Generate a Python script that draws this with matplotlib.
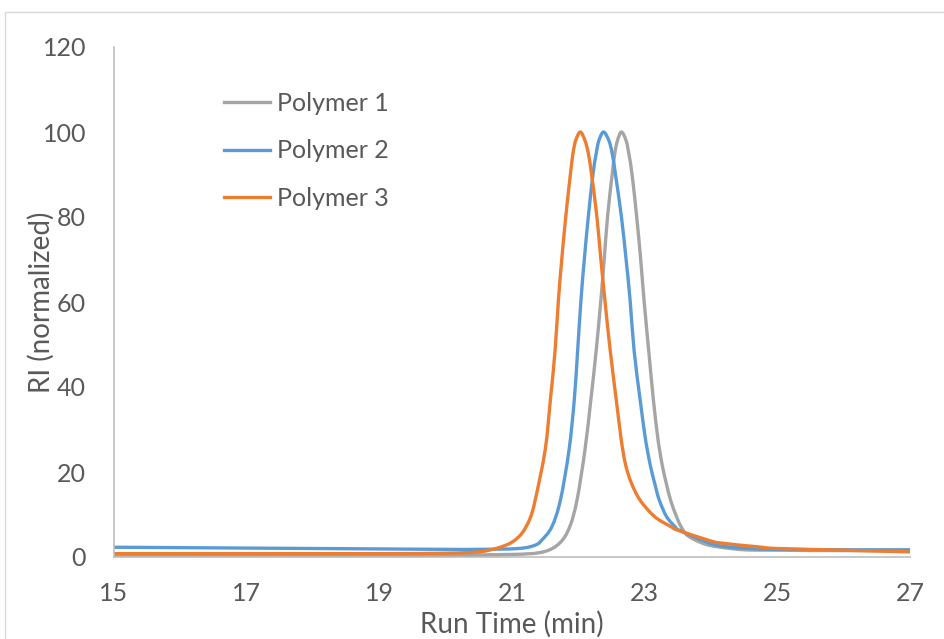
import matplotlib
matplotlib.use("Agg")
import matplotlib.pyplot as plt
from matplotlib.patches import Rectangle, PathPatch
from matplotlib.path import Path
from matplotlib.lines import Line2D

plt.rcParams['font.family'] = ['Lato', 'DejaVu Sans']

# Polymer 1 (grey)
t1 = [15, 17, 19, 20, 21, 21.47, 21.72, 21.87, 21.98, 22.10, 22.19, 22.27, 22.34, 22.39, 22.44,
      22.51, 22.55, 22.59, 22.65, 22.72, 22.76, 22.81, 22.88, 22.94, 22.99, 23.06, 23.13, 23.19,
      23.225, 23.27, 23.325, 23.39, 23.48, 23.55, 23.65, 23.88, 24.1, 24.5, 25, 26, 27]
y1 = [0.5, 0.5, 0.5, 0.5, 0.6, 1.2, 3.3, 7.1, 13.4, 25.2, 37.2, 48.7, 60.5, 70, 80,
      90, 95, 98, 100, 98, 95, 90, 80, 70, 60.5, 48.7, 37.2, 29,
      25.2, 21.2, 17.4, 13.4, 9.5, 7.1, 5.0, 3.2, 2.4, 1.7, 1.6, 1.5, 1.5]

# Polymer 2 (blue)
t2 = [15, 17, 19, 20, 20.5, 21.1, 21.35, 21.45, 21.60, 21.73, 21.86, 21.94, 21.99, 22.04, 22.09,
      22.15, 22.22, 22.27, 22.31, 22.38, 22.46, 22.51, 22.56, 22.65, 22.72, 22.78, 22.84, 22.93,
      23.0, 23.04, 23.09, 23.15, 23.22, 23.33, 23.46, 23.52, 23.99, 24.25, 24.6, 25, 26, 27]
y2 = [2.3, 2.1, 1.9, 1.8, 1.8, 2.0, 2.8, 4.0, 7.1, 13.4, 25.2, 37.2, 48.7, 60.5, 70,
      80, 90, 95, 98, 100, 98, 95, 90, 80, 70, 60.5, 48.7, 37.2,
      29, 25.2, 21.2, 17.4, 13.4, 9.5, 7.1, 6.3, 3.2, 2.4, 2.0, 1.8, 1.7, 1.7]

# Polymer 3 (orange)
t3 = [15, 17, 19, 20, 20.5, 20.8, 21.0, 21.15, 21.27, 21.35, 21.50, 21.58, 21.65, 21.70, 21.75,
      21.81, 21.88, 21.92, 21.96, 22.03, 22.10, 22.15, 22.20, 22.28, 22.34, 22.40, 22.48, 22.57,
      22.635, 22.67, 22.72, 22.80, 22.93, 23.15, 23.40, 23.50, 23.95, 24.14, 24.7, 25, 26, 27]
y3 = [0.8, 0.8, 0.8, 0.9, 1.2, 2.2, 3.5, 5.6, 9.0, 13.4, 25.2, 37.2, 48.7, 60.5, 70,
      80, 90, 95, 98, 100, 98, 95, 90, 80, 70, 60.5, 48.7, 37.2,
      29, 25.2, 21.2, 17.4, 13.4, 9.5, 7.1, 6.3, 4.0, 3.3, 2.4, 2.0, 1.6, 1.2]

series = [("Polymer 1", t1, y1, "#A5A5A5"),
          ("Polymer 2", t2, y2, "#5B9BD5"),
          ("Polymer 3", t3, y3, "#ED7D31")]

xticks = [15, 17, 19, 21, 23, 25, 27]
yticks = [0, 20, 40, 60, 80, 100, 120]


def smooth_path(xs, ys):
    """Smoothed line through the points (Excel-like), as cubic Bezier segments."""
    pts = list(zip(xs, ys))
    verts = [pts[0]]
    codes = [Path.MOVETO]
    n = len(pts)
    for i in range(n - 1):
        p0 = pts[i - 1] if i > 0 else pts[i]
        p1 = pts[i]
        p2 = pts[i + 1]
        p3 = pts[i + 2] if i + 2 < n else pts[i + 1]
        c1 = (p1[0] + (p2[0] - p0[0]) / 6, p1[1] + (p2[1] - p0[1]) / 6)
        c2 = (p2[0] - (p3[0] - p1[0]) / 6, p2[1] - (p3[1] - p1[1]) / 6)
        verts += [c1, c2, p2]
        codes += [Path.CURVE4] * 3
    return Path(verts, codes)


fig = plt.figure(figsize=(9.45, 6.39), dpi=100)
fig.patches.append(Rectangle((5/945, -0.1), 1.2, 1.1 - 12/639, transform=fig.transFigure,
                             fill=False, edgecolor="#D9D9D9", linewidth=1.0))
ax = fig.add_axes([114/945, 1 - 557/639, (910-114)/945, (557-47)/639])

handles = []
for name, t, y, c in series:
    patch = PathPatch(smooth_path(t, y), facecolor="none", edgecolor=c, lw=2.4,
                      joinstyle='round', capstyle='round')
    ax.add_patch(patch)
    handles.append(Line2D([], [], color=c, lw=2.4, label=name))

ax.set_xlim(15, 27)
ax.set_ylim(0, 120)
ax.set_xticks(xticks)
ax.set_yticks(yticks)
ax.tick_params(length=0, labelsize=18, colors="#595959")
ax.tick_params(axis='y', pad=20)
ax.tick_params(axis='x', pad=18)
for s in ["top", "right"]:
    ax.spines[s].set_visible(False)
for s in ["left", "bottom"]:
    ax.spines[s].set_color("#BFBFBF")
    ax.spines[s].set_linewidth(1.2)
ax.spines["bottom"].set_zorder(0.5)

ax.set_xlabel("Run Time (min)", fontsize=20, color="#595959", labelpad=4)
ax.set_ylabel("RI (normalized)", fontsize=20, color="#595959", labelpad=-9)

leg = ax.legend(handles=handles, loc="upper left", bbox_to_anchor=(0.125, 0.932), frameon=False,
                fontsize=18, handlelength=1.85, labelspacing=0.99, handletextpad=0.3, borderaxespad=0)
for txt in leg.get_texts():
    txt.set_color("#595959")

fig.savefig("out.png", dpi=100)
